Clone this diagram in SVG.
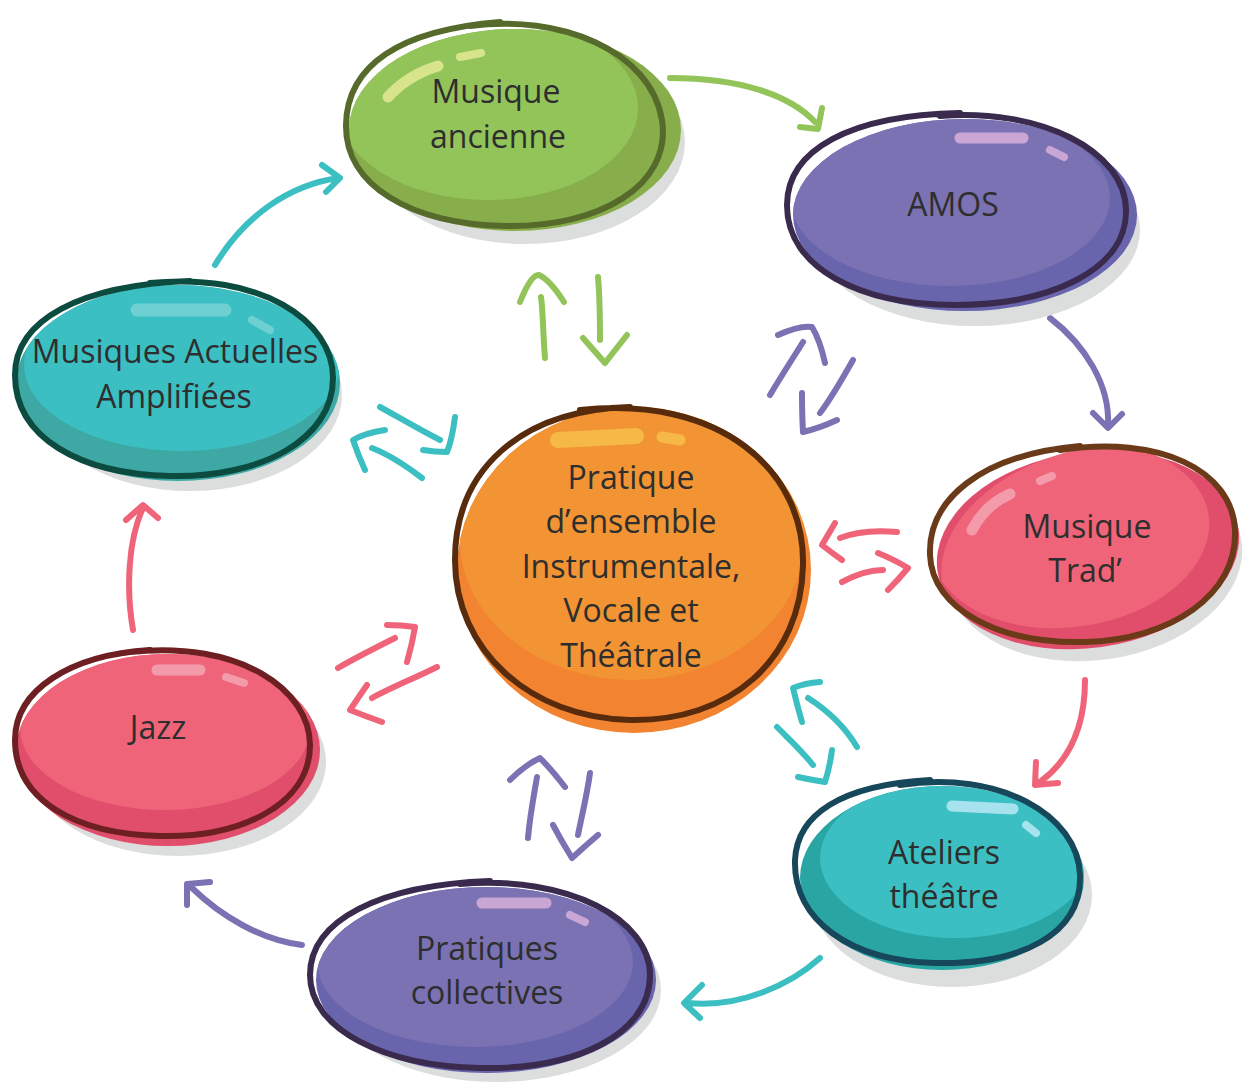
<svg xmlns="http://www.w3.org/2000/svg" width="1243" height="1084" viewBox="0 0 1243 1084">
<defs>
<style>
text{font-family:"Open Sans","Noto Sans","Liberation Sans",sans-serif;font-size:32px;fill:#2e2e2e;text-anchor:middle}
.shadow{fill:#dcdddd}
.hl{fill:none;stroke-linecap:round}
.out{fill:none;stroke-width:6;stroke-linecap:round}
.arr{fill:none;stroke-width:6;stroke-linecap:round;stroke-linejoin:round}
.g{stroke:#93c45a}.p{stroke:#7b72b4}.k{stroke:#ef6479}.t{stroke:#3cbfc2}
</style>
<clipPath id="cA"><ellipse cx="515" cy="130" rx="166" ry="101"/></clipPath>
<clipPath id="cB"><ellipse cx="965" cy="215" rx="172" ry="96"/></clipPath>
<clipPath id="cC"><ellipse cx="1088" cy="550" rx="152" ry="98" transform="rotate(-8 1088 550)"/></clipPath>
<clipPath id="cD"><ellipse cx="942" cy="878" rx="142" ry="92"/></clipPath>
<clipPath id="cE"><ellipse cx="486" cy="980" rx="170" ry="93"/></clipPath>
<clipPath id="cF"><ellipse cx="168" cy="750" rx="152" ry="96"/></clipPath>
<clipPath id="cG"><ellipse cx="178" cy="383" rx="162" ry="98"/></clipPath>
<clipPath id="cH"><ellipse cx="634" cy="570" rx="177" ry="163"/></clipPath>
</defs>

<g id="connectors">
<path class="arr g" d="M670,78 C740,78 790,95 815,122 M800,127 L818,129 L822,108"/>
<path class="arr p" d="M1050,318 C1085,345 1110,385 1108,425 M1093,413 L1108,428 L1122,414"/>
<path class="arr k" d="M1085,680 C1085,725 1070,760 1040,782 M1036,762 L1035,785 L1058,783"/>
<path class="arr t" d="M820,958 C790,985 740,1008 688,1003 M702,985 L684,1003 L700,1018"/>
<path class="arr p" d="M302,945 C260,940 220,915 192,888 M187,905 L187,884 L210,882"/>
<path class="arr k" d="M133,630 C126,590 128,540 143,508 M126,520 L143,505 L158,518"/>
<path class="arr t" d="M215,265 C245,215 290,185 338,178 M322,165 L340,178 L326,192"/>
<path class="arr g" d="M545,358 C543,335 543,310 541,297 M520,302 Q531,274 539,275 Q550,280 564,302"/>
<path class="arr g" d="M598,277 C600,300 600,320 600,340 M583,338 L605,363 L627,335"/>
<path class="arr p" d="M770,395 C785,370 795,355 803,342 M778,335 Q800,325 812,327 Q820,340 825,363"/>
<path class="arr p" d="M853,360 C840,383 830,400 820,413 M802,393 Q802,415 803,432 Q820,428 837,420"/>
<path class="arr t" d="M380,407 C400,418 420,430 440,440 M455,417 Q452,440 447,452 Q435,452 423,450"/>
<path class="arr t" d="M422,478 C405,465 390,455 372,448 M385,430 Q365,433 353,440 Q358,455 365,470"/>
<path class="arr k" d="M897,532 C875,530 855,532 840,538 M835,523 Q828,535 822,545 Q832,553 842,560"/>
<path class="arr k" d="M842,582 C855,575 870,570 883,570 M878,553 Q895,560 908,568 Q898,580 888,590"/>
<path class="arr k" d="M338,668 C355,658 375,648 395,638 M387,625 Q402,625 415,627 Q412,645 407,662"/>
<path class="arr k" d="M437,667 C415,678 390,688 372,698 M367,685 Q358,698 350,710 Q365,716 382,722"/>
<path class="arr p" d="M528,838 C530,815 534,795 537,777 M510,780 Q525,765 540,758 Q552,770 565,787"/>
<path class="arr p" d="M590,773 C587,795 582,815 578,835 M553,825 Q562,842 572,858 Q585,846 598,835"/>
<path class="arr t" d="M857,747 C845,727 827,710 808,698 M820,682 Q805,683 793,688 Q797,705 802,722"/>
<path class="arr t" d="M777,727 C790,740 803,752 813,765 M832,750 Q830,766 825,782 Q812,780 798,777"/>
</g>

<g id="node-musique-ancienne">
<ellipse class="shadow" cx="525" cy="142" rx="160" ry="102"/>
<ellipse cx="515" cy="130" rx="166" ry="101" fill="#88ae4b"/>
<ellipse cx="488" cy="108" rx="150" ry="92" fill="#93c45a" clip-path="url(#cA)"/>
<path class="hl" d="M388,97 Q408,75 438,66" stroke="#d8e48c" stroke-width="11"/>
<path class="hl" d="M460,57 L481,53" stroke="#d8e48c" stroke-width="8"/>
<path class="out" stroke="#566a2b" d="M470,26 C560,14 650,50 662,120 C672,185 600,228 505,226 C410,224 345,185 346,125 C347,65 400,30 500,22"/>
<text x="496" y="103">Musique</text>
<text x="498" y="148">ancienne</text>
</g>

<g id="node-amos">
<ellipse class="shadow" cx="975" cy="230" rx="165" ry="96"/>
<ellipse cx="965" cy="215" rx="172" ry="96" fill="#6865ad"/>
<ellipse cx="950" cy="198" rx="160" ry="88" fill="#7b72b4" clip-path="url(#cB)"/>
<path class="hl" d="M960,138 L1023,138" stroke="#c9a6d4" stroke-width="11"/>
<path class="hl" d="M1050,150 L1064,157" stroke="#c9a6d4" stroke-width="8"/>
<path class="out" stroke="#3a2a4d" d="M940,116 C1040,108 1125,150 1126,210 C1127,270 1050,305 955,305 C860,305 787,268 787,205 C787,150 850,115 960,113"/>
<text x="953" y="216">AMOS</text>
</g>

<g id="node-musique-trad">
<ellipse class="shadow" cx="1095" cy="562" rx="148" ry="98" transform="rotate(-8 1095 562)"/>
<ellipse cx="1088" cy="550" rx="152" ry="98" transform="rotate(-8 1088 550)" fill="#e04e6c"/>
<ellipse cx="1070" cy="535" rx="140" ry="92" transform="rotate(-8 1070 535)" fill="#ef6479" clip-path="url(#cC)"/>
<path class="hl" d="M972,530 Q985,505 1010,494" stroke="#f49bab" stroke-width="11"/>
<path class="hl" d="M1040,481 L1052,476" stroke="#f49bab" stroke-width="8"/>
<path class="out" stroke="#6b3a18" d="M1060,450 C1160,435 1232,470 1235,530 C1238,595 1170,640 1085,642 C1000,644 932,610 930,555 C928,500 980,455 1080,446"/>
<text x="1087" y="538">Musique</text>
<text x="1085" y="582">Trad’</text>
</g>

<g id="node-ateliers-theatre">
<ellipse class="shadow" cx="952" cy="895" rx="140" ry="92"/>
<ellipse cx="942" cy="878" rx="142" ry="92" fill="#29a5a4"/>
<ellipse cx="955" cy="858" rx="135" ry="80" fill="#3cbfc2" clip-path="url(#cD)"/>
<path class="hl" d="M952,806 L1013,809" stroke="#a7e2ef" stroke-width="11"/>
<path class="hl" d="M1026,825 L1036,833" stroke="#a7e2ef" stroke-width="8"/>
<path class="out" stroke="#17475a" d="M900,785 C1000,770 1078,815 1080,875 C1082,935 1020,965 935,963 C850,961 793,920 795,860 C797,815 840,785 930,780"/>
<text x="944" y="864">Ateliers</text>
<text x="944" y="908">théâtre</text>
</g>

<g id="node-pratiques-collectives">
<ellipse class="shadow" cx="496" cy="990" rx="165" ry="92"/>
<ellipse cx="486" cy="980" rx="170" ry="93" fill="#6865ad"/>
<ellipse cx="475" cy="962" rx="158" ry="85" fill="#7b72b4" clip-path="url(#cE)"/>
<path class="hl" d="M482,903 L546,903" stroke="#c9a6d4" stroke-width="11"/>
<path class="hl" d="M570,915 L585,922" stroke="#c9a6d4" stroke-width="8"/>
<path class="out" stroke="#3a2a4d" d="M460,884 C570,875 650,920 650,975 C650,1035 575,1070 480,1068 C385,1066 310,1030 310,975 C310,920 380,885 490,881"/>
<text x="487" y="960">Pratiques</text>
<text x="487" y="1004">collectives</text>
</g>

<g id="node-jazz">
<ellipse class="shadow" cx="178" cy="762" rx="148" ry="94"/>
<ellipse cx="168" cy="750" rx="152" ry="96" fill="#e04e6c"/>
<ellipse cx="165" cy="728" rx="145" ry="82" fill="#ef6479" clip-path="url(#cF)"/>
<path class="hl" d="M157,670 L200,670" stroke="#f49bab" stroke-width="11"/>
<path class="hl" d="M226,677 L244,683" stroke="#f49bab" stroke-width="8"/>
<path class="out" stroke="#6e1f22" d="M130,652 C240,640 310,690 310,745 C310,805 240,838 160,836 C75,834 15,800 15,740 C15,690 70,655 150,650"/>
<text x="158" y="739">Jazz</text>
</g>

<g id="node-musiques-actuelles">
<ellipse class="shadow" cx="190" cy="395" rx="152" ry="96"/>
<ellipse cx="178" cy="383" rx="162" ry="98" fill="#3ea8a4"/>
<ellipse cx="182" cy="365" rx="158" ry="86" fill="#3cbfc2" clip-path="url(#cG)"/>
<path class="hl" d="M137,310 L225,310" stroke="#6fd0d3" stroke-width="13"/>
<path class="hl" d="M252,320 L270,330" stroke="#6fd0d3" stroke-width="8"/>
<path class="out" stroke="#0c4b40" d="M150,283 C260,272 333,320 333,378 C333,440 260,478 170,476 C80,474 15,438 15,375 C15,320 80,285 190,281"/>
<text x="175" y="363">Musiques Actuelles</text>
<text x="174" y="408">Amplifiées</text>
</g>

<g id="node-center">
<ellipse cx="634" cy="570" rx="177" ry="163" fill="#f28431"/>
<ellipse cx="632" cy="540" rx="172" ry="140" fill="#f29433" clip-path="url(#cH)"/>
<path class="hl" d="M558,440 L636,436" stroke="#f6b847" stroke-width="16"/>
<path class="hl" d="M662,437 L680,440" stroke="#f6b847" stroke-width="11"/>
<path class="out" stroke="#572b0c" d="M580,410 C720,395 805,470 803,565 C801,660 730,722 630,720 C530,718 455,650 455,560 C455,470 520,410 630,407"/>
<text x="631" y="489">Pratique</text>
<text x="631" y="533">d’ensemble</text>
<text x="631" y="578">Instrumentale,</text>
<text x="631" y="622">Vocale et</text>
<text x="631" y="667">Théâtrale</text>
</g>
</svg>
